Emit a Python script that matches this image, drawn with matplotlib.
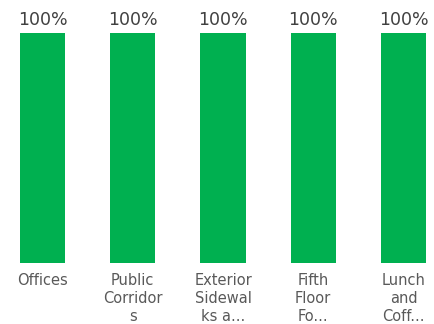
import matplotlib
matplotlib.use('Agg')
import matplotlib.pyplot as plt

plt.rcParams['font.family'] = ['DejaVu Sans']

categories = ['Offices', 'Public\nCorridor\ns', 'Exterior\nSidewal\nks a...',
              'Fifth\nFloor\nFo...', 'Lunch\nand\nCoff...']
values = [100, 100, 100, 100, 100]
value_labels = ['100%', '100%', '100%', '100%', '100%']

fig = plt.figure(figsize=(4.34, 3.24), dpi=100)
ax = fig.add_axes([0, 1 - 263 / 324, 1, 230 / 324])

x = range(len(categories))
ax.bar(x, values, width=0.5, color='#00B050')

for xi, v, lab in zip(x, values, value_labels):
    ax.annotate(lab, (xi, v), xytext=(0, 3), textcoords='offset points',
                ha='center', va='bottom', fontsize=12.5, color='#404040',
                annotation_clip=False)

ax.set_xlim(-0.471, 4.338)
ax.set_ylim(0, 100)
ax.set_xticks(list(x))
ax.set_xticklabels(categories, fontsize=10.5, color='#595959', linespacing=1.25)
ax.tick_params(axis='x', length=0, pad=7.5)
ax.set_yticks([])
for s in ax.spines.values():
    s.set_visible(False)

fig.savefig('out.png', dpi=100)
